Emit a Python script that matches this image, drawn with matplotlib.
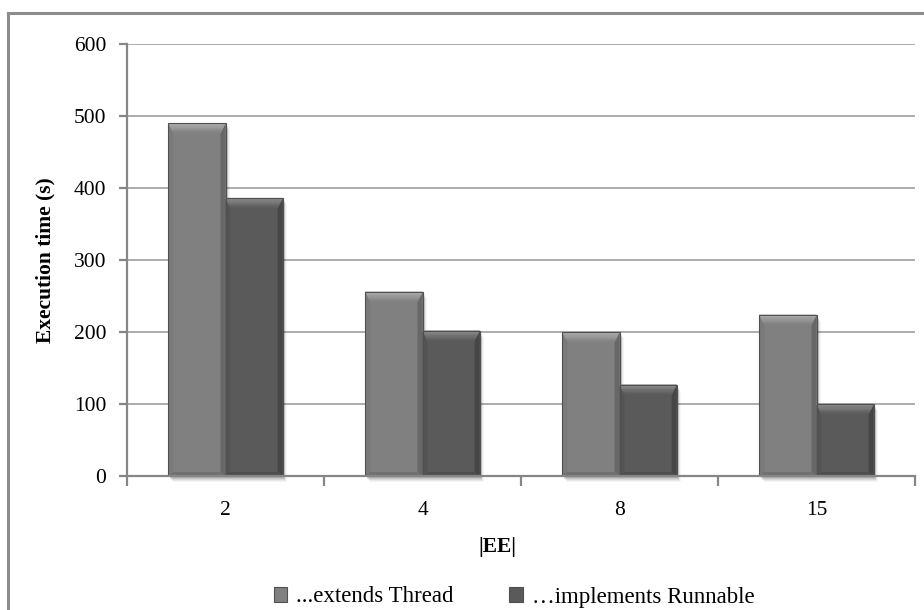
import matplotlib
matplotlib.use("Agg")
import matplotlib.pyplot as plt
import numpy as np
from matplotlib.patches import Polygon, Rectangle, Patch
from matplotlib.lines import Line2D
from matplotlib.colors import to_rgb

# Data
categories = ["2", "4", "8", "15"]
extends_thread = [490, 256, 200, 224]
implements_runnable = [386, 202, 127, 100]
series_names = ["...extends Thread", "\u2026implements Runnable"]
yticks = [0, 100, 200, 300, 400, 500, 600]

FONT = "Liberation Serif"
plt.rcParams["font.family"] = [FONT, "DejaVu Serif"]

face_colors = ["#808080", "#5a5a5a"]
top_colors = ["#b4b4b4", "#949494"]
left_colors = ["#7a7a7a", "#545454"]
right_colors = ["#686868", "#464646"]
bottom_colors = ["#707070", "#4e4e4e"]
axis_color = "#868686"
grid_color = "#a6a6a6"

fig = plt.figure(figsize=(9.24, 6.10), dpi=100)
ax = fig.add_axes([127 / 924, 1 - 476 / 610, (915 - 127) / 924, (476 - 44) / 610])

n = len(categories)
x = np.arange(n)
width = 0.29

ax.set_xlim(-0.5, n - 0.5)
ax.set_ylim(0, 600)

# pixel -> data conversion factors
bbox = ax.get_window_extent()
px_x = n / bbox.width
px_y = 600 / bbox.height


def mix(c1, c2, t):
    a, b = np.array(to_rgb(c1)), np.array(to_rgb(c2))
    return tuple(a + (b - a) * t)


def draw_bevel_bar(x0, w, h, k):
    x1 = x0 + w
    # soft drop shadow
    for off, a in [(6, 0.04), (5, 0.05), (4, 0.07), (3, 0.09), (2, 0.10)]:
        ax.add_patch(Rectangle((x0 + off * px_x * 0.7, -off * px_y), w, h,
                               facecolor="#000000", alpha=a, edgecolor="none",
                               zorder=2, clip_on=False))
    ax.add_patch(Rectangle((x0, 0), w, h, facecolor=face_colors[k],
                           edgecolor="none", zorder=3))
    bx = 5 * px_x
    byt = 10 * px_y
    byb = 4 * px_y
    ax.add_patch(Polygon([(x0, h), (x0 + bx, h - byt), (x0 + bx, byb), (x0, 0)],
                         closed=True, facecolor=left_colors[k], edgecolor="none", zorder=4))
    ax.add_patch(Polygon([(x1, h), (x1 - bx, h - byt), (x1 - bx, byb), (x1, 0)],
                         closed=True, facecolor=right_colors[k], edgecolor="none", zorder=4))
    ax.add_patch(Polygon([(x0, 0), (x0 + bx, byb), (x1 - bx, byb), (x1, 0)],
                         closed=True, facecolor=bottom_colors[k], edgecolor="none", zorder=4))
    # top bevel drawn as a gradient from highlight to face colour
    m = 8
    for i in range(m):
        t0, t1 = i / m, (i + 1) / m
        col = mix(top_colors[k], face_colors[k], (t0 + t1) / 2)
        ax.add_patch(Polygon([(x0 + bx * t0, h - byt * t0), (x1 - bx * t0, h - byt * t0),
                              (x1 - bx * t1, h - byt * t1), (x0 + bx * t1, h - byt * t1)],
                             closed=True, facecolor=col, edgecolor=col, linewidth=0.3,
                             zorder=4))
    ax.add_patch(Rectangle((x0, 0), w, h, facecolor="none",
                           edgecolor="#505050", linewidth=0.8, zorder=5))


for k, vals in enumerate([extends_thread, implements_runnable]):
    bars = ax.bar(x + (k - 0.5) * width, vals, width, color="none",
                  edgecolor="none", zorder=1, label=series_names[k])
    for b in bars:
        draw_bevel_bar(b.get_x(), b.get_width(), b.get_height(), k)

# grid and axes
ax.set_yticks(yticks)
ax.yaxis.grid(True, color=grid_color, linewidth=1.3, zorder=0)
ax.set_axisbelow(True)
for s in ["top", "right"]:
    ax.spines[s].set_visible(False)
for s in ["left", "bottom"]:
    ax.spines[s].set_color(axis_color)
    ax.spines[s].set_linewidth(1.6)
    ax.spines[s].set_zorder(6)

ax.set_xticks(x)
ax.set_xticklabels(categories)
ax.set_xticks(np.arange(-0.5, n, 1.0), minor=True)
ax.tick_params(axis="x", which="major", length=0, pad=18, labelsize=15.5)
ax.tick_params(axis="x", which="minor", length=7, width=1.6, color=axis_color)
ax.tick_params(axis="y", which="major", length=6, width=1.6, color=axis_color,
               labelsize=15.5, pad=9)

fig.text(497 / 924, 1 - 547 / 610, "|EE|", ha="center", va="center",
         fontsize=15.5, fontweight="bold")
fig.text(45 / 924, 1 - 260 / 610, "Execution time (s)", ha="center", va="center",
         rotation=90, fontsize=15.5, fontweight="bold")

# legend
handles = [Patch(facecolor=face_colors[k], edgecolor="#505050", linewidth=0.8)
           for k in range(2)]
fig.legend(handles, series_names, loc="center", bbox_to_anchor=(514 / 924, 1 - 597 / 610),
           ncol=2, frameon=False, fontsize=16.5, handlelength=0.6, handleheight=0.6,
           handletextpad=0.4, columnspacing=2.4)

# chart border
fig.add_artist(Line2D([8 / 924, 8 / 924], [0, 1 - 13 / 610], transform=fig.transFigure,
                      color="#8c8c8c", linewidth=2.2))
fig.add_artist(Line2D([8 / 924, 1], [1 - 13 / 610, 1 - 13 / 610], transform=fig.transFigure,
                      color="#8c8c8c", linewidth=2.2))

fig.savefig("out.png", dpi=100)
